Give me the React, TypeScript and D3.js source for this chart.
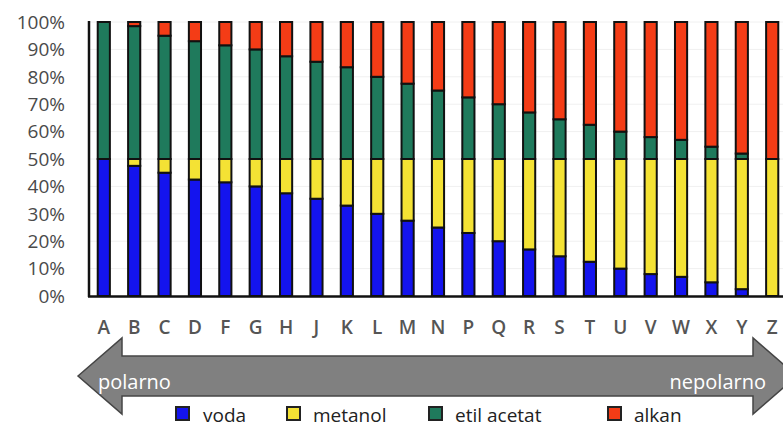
import React from "react";
import * as d3 from "d3";

const categories = ["A","B","C","D","F","G","H","J","K","L","M","N","P","Q","R","S","T","U","V","W","X","Y","Z"];
const voda =       [50, 47.5, 45, 42.5, 41.5, 40, 37.5, 35.5, 33, 30, 27.5, 25, 23, 20, 17, 14.5, 12.5, 10, 8, 7, 5, 2.5, 0];
const metanol =    [0, 2.5, 5, 7.5, 8.5, 10, 12.5, 14.5, 17, 20, 22.5, 25, 27, 30, 33, 35.5, 37.5, 40, 42, 43, 45, 47.5, 50];
const etilAcetat = [50, 48.5, 45, 43, 41.5, 40, 37.5, 35.5, 33.5, 30, 27.5, 25, 22.5, 20, 17, 14.5, 12.5, 10, 8, 7, 4.5, 2, 0];
const alkan =      [0, 1.5, 5, 7, 8.5, 10, 12.5, 14.5, 16.5, 20, 22.5, 25, 27.5, 30, 33, 35.5, 37.5, 40, 42, 43, 45.5, 48, 50];
const seriesNames = ["voda", "metanol", "etil acetat", "alkan"];
const seriesColors = ["#1414ee", "#f4e234", "#1f7a5c", "#f43c16"];
const yTicks = [0, 10, 20, 30, 40, 50, 60, 70, 80, 90, 100];
const arrowLabels = ["polarno", "nepolarno"];

const W = 783, H = 428;
const FONT = "'Open Sans', 'Noto Sans', sans-serif";

export default function App() {
  const x = d3.scaleBand<string>().domain(categories).range([88, 788]).paddingInner(0.6).paddingOuter(0.32);
  const y = d3.scaleLinear().domain([0, 100]).range([296, 22]);
  const rows = categories.map((c, i) => ({ cat: c, voda: voda[i], metanol: metanol[i], "etil acetat": etilAcetat[i], alkan: alkan[i] }));
  const stack = d3.stack<any>().keys(seriesNames)(rows);

  const cy = 376;
  const bodyH = 20, headH = 38, headW = 44;
  const lx = 78, rx = 797;
  const arrowPts = [
    [lx, cy], [lx + headW, cy - headH], [lx + headW, cy - bodyH], [rx - headW, cy - bodyH], [rx - headW, cy - headH],
    [rx, cy], [rx - headW, cy + headH], [rx - headW, cy + bodyH], [lx + headW, cy + bodyH], [lx + headW, cy + headH]
  ];
  const legendX = [175, 286, 428, 607];

  return (
    <svg width={W} height={H} style={{ position: "absolute", left: 0, top: 0, background: "#fff" }} fontFamily={FONT}>
      {yTicks.map(t => (
        <g key={t}>
          {t > 0 && <line x1={89} x2={783} y1={y(t)} y2={y(t)} stroke="#f0f0f0" strokeWidth={1} />}
          <text x={65} y={y(t)} dy="0.36em" textAnchor="end" fontSize={19} fill="#4a4a4a">{t}%</text>
        </g>
      ))}
      {stack.map((s, si) => (
        <g key={si}>
          {s.map((d: any, i: number) => {
            const h = y(d[0]) - y(d[1]);
            if (h <= 0) return null;
            return (
              <rect key={i} x={x(categories[i])} y={y(d[1])} width={x.bandwidth()} height={h}
                fill={seriesColors[si]} stroke="#111" strokeWidth={2} />
            );
          })}
        </g>
      ))}
      <line x1={89} x2={89} y1={21} y2={297} stroke="#111" strokeWidth={2.5} />
      <line x1={88} x2={783} y1={296.5} y2={296.5} stroke="#111" strokeWidth={2.5} />
      {categories.map(c => (
        <text key={c} x={(x(c) as number) + x.bandwidth() / 2} y={334} textAnchor="middle" fontSize={19} fontWeight={600} fill="#555">{c}</text>
      ))}
      <polygon points={arrowPts.map(p => p.join(",")).join(" ")} fill="#808080" stroke="#454545" strokeWidth={1.5} />
      <text x={98} y={389} fontSize={20} fill="#fff">{arrowLabels[0]}</text>
      <text x={766} y={389} fontSize={20} fill="#fff" textAnchor="end">{arrowLabels[1]}</text>
      {seriesNames.map((n, i) => (
        <g key={n}>
          <rect x={legendX[i] + 1} y={407} width={13} height={13} fill={seriesColors[i]} stroke="#222" strokeWidth={2} />
          <text x={legendX[i] + (i === 0 ? 28 : 27)} y={422} fontSize={19} fill="#222">{n}</text>
        </g>
      ))}
    </svg>
  );
}
